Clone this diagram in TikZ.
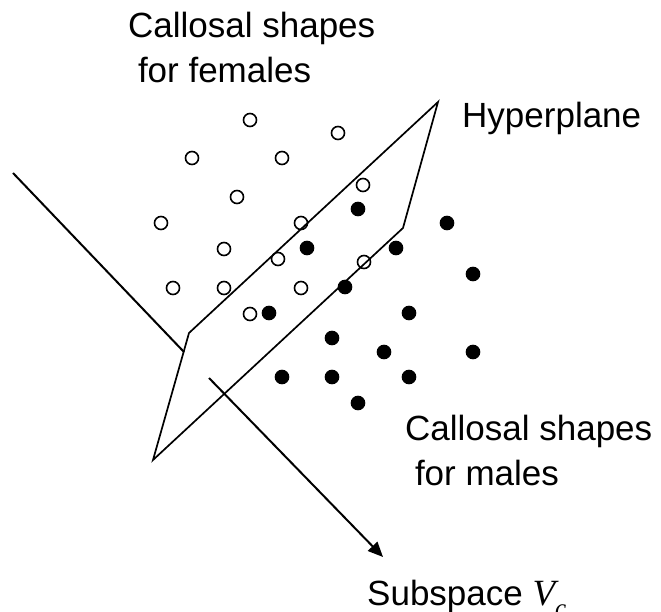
\documentclass[tikz,border=0pt]{standalone}
\usepackage{fontspec}
\setmainfont{Liberation Sans}
\newfontfamily\timesfont{Liberation Serif}
\usepackage{tikz}
\usetikzlibrary{arrows.meta}
\tikzset{
  femaledot/.style={circle, draw=black, line width=1.6pt, inner sep=0pt,
                    minimum size=13pt},
  maledot/.style={circle, draw=black, fill=black, line width=1.6pt,
                  inner sep=0pt, minimum size=13pt},
  planeedge/.style={line width=1.7pt, line join=miter},
  axisline/.style={line width=2pt},
  labeltext/.style={font=\fontsize{35}{45}\selectfont, inner sep=0pt,
                    align=left, anchor=base west},
}

\begin{document}
\begin{tikzpicture}[x=1pt, y=-1pt]
    \useasboundingbox (0,0) rectangle (661,612);

    % the hyperplane
    \coordinate (pTR) at (438,102);
    \coordinate (pR) at (403,228);
    \coordinate (pBL) at (153,460);
    \coordinate (pL) at (189,333);
    \draw[planeedge] (pL) -- (pTR) -- (pR) -- (pBL) -- cycle;

    % the subspace direction, hidden behind the plane
    \coordinate (axStart) at (13,173);
    \coordinate (axHide) at (184,352);
    \coordinate (axResume) at (209,378);
    \coordinate (axEnd) at (383,557);
    \draw[axisline] (axStart) -- (axHide);
    \draw[axisline, -{Triangle[length=15pt, width=13pt]}] (axResume) -- (axEnd);

    % females
    \foreach \x/\y [count=\i] in {250/120, 338/133, 192/158, 282/158, 363/185,
        237/197, 161/223, 301/223, 224/249, 278/259, 364/262, 173/288,
        224/288, 301/288, 250/314}
      \node[femaledot] (f\i) at (\x,\y) {};

    % males
    \foreach \x/\y [count=\i] in {358/209, 447/223, 307/248, 396/248, 473/274,
        345/287, 269/313, 409/313, 332/338, 384/352, 473/352, 282/377,
        332/377, 409/377, 358/403}
      \node[maledot] (m\i) at (\x,\y) {};

    % base anchor sits on the last line
    \node[labeltext] (females) at (128,83) {Callosal shapes\\\hspace{0.28em}for females};
    \node[labeltext] (hyper) at (462,128) {Hyperplane};
    \node[labeltext] (males) at (405,485) {Callosal shapes\\\hspace{0.28em}for males};
    \node[labeltext] (subsp) at (367,605)
      {Subspace {\timesfont\itshape\fontsize{37}{37}\selectfont V\raisebox{-0.3em}{\fontsize{25}{25}\selectfont c}}};
\end{tikzpicture}
\end{document}
